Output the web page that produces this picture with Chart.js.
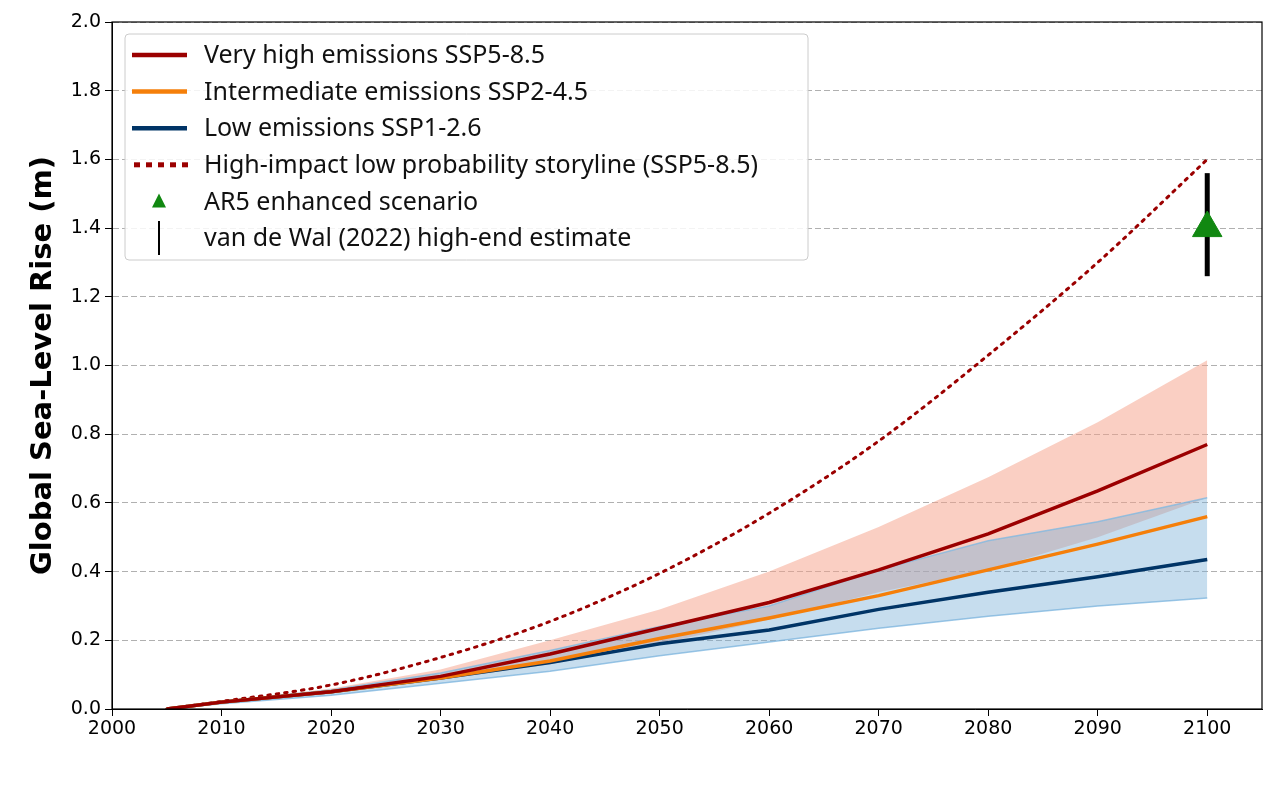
<!DOCTYPE html>
<html>
<head>
<meta charset="utf-8">
<script src="https://cdn.jsdelivr.net/npm/chart.js@4"></script>
<style>
  html, body { margin: 0; padding: 0; background: #fff; }
</style>
</head>
<body>
<canvas id="slrChart" width="1280" height="804"></canvas>
<script>
// data
const years = [2005, 2010, 2020, 2030, 2040, 2050, 2060, 2070, 2080, 2090, 2100];
const ssp585 = [0, 0.02, 0.05, 0.095, 0.16, 0.235, 0.31, 0.405, 0.51, 0.635, 0.77];
const ssp245 = [0, 0.02, 0.05, 0.09, 0.14, 0.205, 0.265, 0.33, 0.405, 0.48, 0.56];
const ssp126 = [0, 0.02, 0.05, 0.09, 0.135, 0.19, 0.23, 0.29, 0.34, 0.385, 0.435];
const storyline = [0, 0.022, 0.07, 0.15, 0.255, 0.395, 0.57, 0.78, 1.03, 1.3, 1.6];
const ssp585Low = [0, 0.018, 0.045, 0.085, 0.13, 0.19, 0.26, 0.34, 0.405, 0.5, 0.615];
const ssp585High = [0, 0.022, 0.06, 0.115, 0.2, 0.29, 0.4, 0.53, 0.675, 0.835, 1.015];
const ssp126Low = [0, 0.015, 0.04, 0.075, 0.11, 0.155, 0.195, 0.235, 0.27, 0.3, 0.323];
const ssp126High = [0, 0.022, 0.055, 0.105, 0.17, 0.24, 0.3, 0.405, 0.49, 0.545, 0.615];
const ar5Point = [{ x: 2100, y: 1.4 }];
const vdWalRange = [{ x: 2100, y: 1.26 }, { x: 2100, y: 1.56 }];
const xTicks = [2000, 2010, 2020, 2030, 2040, 2050, 2060, 2070, 2080, 2090, 2100];

const pts = arr => arr.map((v, i) => ({ x: years[i], y: v }));
const FONT = "'Noto Sans', 'DejaVu Sans', sans-serif";
const AXFONT = "'DejaVu Sans', sans-serif";

const legendItems = [
    { label: "Very high emissions SSP5-8.5", kind: "line", color: "#9b0000" },
    { label: "Intermediate emissions SSP2-4.5", kind: "line", color: "#f57f0a" },
    { label: "Low emissions SSP1-2.6", kind: "line", color: "#003466" },
    { label: "High-impact low probability storyline (SSP5-8.5)", kind: "dots", color: "#9b0000" },
    { label: "AR5 enhanced scenario", kind: "tri", color: "#118811" },
    { label: "van de Wal (2022) high-end estimate", kind: "bar", color: "#000" }
];

const boxAndLegend = {
    id: "boxAndLegend",
    afterDraw(chart) {
        const ctx = chart.ctx, a = chart.chartArea;
        ctx.save();
        ctx.strokeStyle = "#000";
        ctx.lineWidth = 1.2;
        ctx.strokeRect(a.left, a.top, a.right - a.left, a.bottom - a.top);

        const x0 = 125, y0 = 34, w = 683, h = 226;
        ctx.fillStyle = "rgba(255,255,255,0.85)";
        ctx.strokeStyle = "#cccccc";
        ctx.lineWidth = 1;
        ctx.beginPath();
        ctx.roundRect(x0, y0, w, h, 4);
        ctx.fill();
        ctx.stroke();
        ctx.font = "25px " + FONT;
        ctx.textBaseline = "middle";
        legendItems.forEach((it, i) => {
            const cy = 55 + i * 36.6;
            ctx.strokeStyle = it.color;
            ctx.fillStyle = it.color;
            if (it.kind === "line") {
                ctx.lineWidth = 4.5;
                ctx.beginPath(); ctx.moveTo(132, cy); ctx.lineTo(187, cy); ctx.stroke();
            } else if (it.kind === "dots") {
                for (let k = 0; k < 5; k++) ctx.fillRect(134 + k * 12, cy - 2.5, 6, 5);
            } else if (it.kind === "tri") {
                ctx.beginPath(); ctx.moveTo(159, cy - 8); ctx.lineTo(166, cy + 6); ctx.lineTo(152, cy + 6); ctx.closePath(); ctx.fill();
            } else {
                ctx.lineWidth = 2;
                ctx.beginPath(); ctx.moveTo(159, cy - 17); ctx.lineTo(159, cy + 17); ctx.stroke();
            }
            ctx.fillStyle = "#111";
            ctx.fillText(it.label, 204, cy + 1);
        });
        ctx.restore();
    }
};

new Chart(document.getElementById("slrChart"), {
    type: "line",
    data: {
        datasets: [
            { data: pts(ssp585Low), order: 20, borderWidth: 0, pointRadius: 0, fill: false },
            { data: pts(ssp585High), order: 19, borderWidth: 0, pointRadius: 0, fill: "-1", backgroundColor: "rgba(246,160,135,0.5)" },
            { data: pts(ssp126Low), order: 18, borderWidth: 1.5, borderColor: "rgba(130,185,225,0.8)", pointRadius: 0, fill: false },
            { data: pts(ssp126High), order: 17, borderWidth: 1.5, borderColor: "rgba(130,185,225,0.8)", pointRadius: 0, fill: "-1", backgroundColor: "rgba(120,175,215,0.42)" },
            { data: pts(storyline), order: 5, borderColor: "#9b0000", borderWidth: 3, borderDash: [2.5, 6], borderCapStyle: "round", pointRadius: 0, fill: false, cubicInterpolationMode: "monotone" },
            { data: pts(ssp126), order: 4, borderColor: "#003466", borderWidth: 3.5, pointRadius: 0, fill: false },
            { data: pts(ssp245), order: 3, borderColor: "#f57f0a", borderWidth: 3.5, pointRadius: 0, fill: false },
            { data: pts(ssp585), order: 2, borderColor: "#9b0000", borderWidth: 3.5, pointRadius: 0, fill: false },
            { data: vdWalRange, order: 1, borderColor: "#000", borderWidth: 5, pointRadius: 0, fill: false },
            { data: ar5Point, order: 0, showLine: false, pointStyle: "triangle", pointRadius: 17, backgroundColor: "#118811", borderColor: "#118811" }
        ]
    },
    options: {
        responsive: false,
        animation: false,
        devicePixelRatio: 1,
        layout: { padding: { top: 22, right: 15, left: 0, bottom: 0 } },
        plugins: { legend: { display: false }, tooltip: { enabled: false } },
        scales: {
            x: {
                type: "linear",
                min: 2000,
                max: 2105,
                afterBuildTicks: s => { s.ticks = xTicks.map(v => ({ value: v })); },
                afterFit: s => { s.height = 95; s.paddingRight = 0; s.paddingLeft = 0; },
                grid: { display: true, drawOnChartArea: false, tickLength: 7, color: "#000" },
                border: { color: "#000" },
                ticks: { color: "#000", font: { family: AXFONT, size: 19 }, padding: 2, maxRotation: 0, callback: v => String(v) }
            },
            y: {
                min: 0,
                max: 2.0,
                afterFit: s => { s.width = 112; },
                ticks: { stepSize: 0.2, color: "#000", font: { family: AXFONT, size: 19 }, padding: 4, callback: v => v.toFixed(1) },
                grid: { color: "#b0b0b0", lineWidth: 1, tickColor: "#000", tickLength: 7 },
                border: { color: "#000", dash: [6, 3] },
                title: { display: true, text: "Global Sea-Level Rise (m)", color: "#000", font: { family: AXFONT, size: 29, weight: "bold" }, padding: { top: 26, bottom: 0 } }
            }
        }
    },
    plugins: [boxAndLegend]
});
</script>
</body>
</html>
